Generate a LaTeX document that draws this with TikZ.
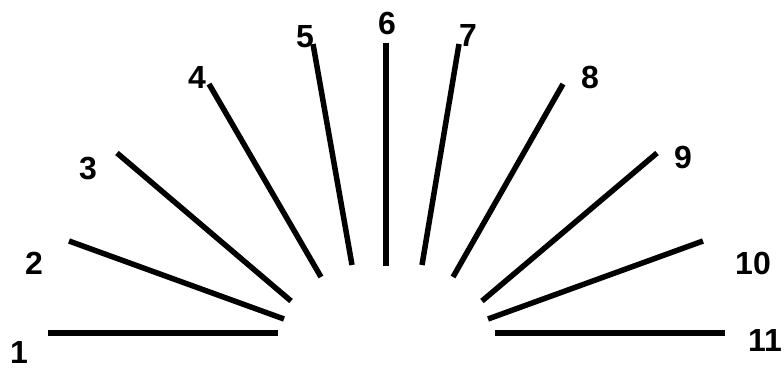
\documentclass[tikz,border=0pt]{standalone}
\usepackage{fontspec}
\setmainfont{Liberation Sans}
\usepackage{tikz}

\begin{document}
\begin{tikzpicture}[
  x=1pt, y=-1pt,
  ray/.style = {draw=black, line width=5.5pt},
  num/.style = {inner sep=0pt, font=\fontsize{32}{38}\selectfont\bfseries},
]
\useasboundingbox (0,0) rectangle (784,369);
% outer and inner ends of the rays
\coordinate (o1)  at (48,333);  \coordinate (i1)  at (278,333);
\coordinate (o2)  at (69,241);  \coordinate (i2)  at (284,319);
\coordinate (o3)  at (117,153); \coordinate (i3)  at (291,301);
\coordinate (o4)  at (209,84);  \coordinate (i4)  at (321,277);
\coordinate (o5)  at (313,44);  \coordinate (i5)  at (352,265);
\coordinate (o6)  at (386,43);  \coordinate (i6)  at (386,266);
\coordinate (o7)  at (459,44);  \coordinate (i7)  at (422,265);
\coordinate (o8)  at (563,84);  \coordinate (i8)  at (453,277);
\coordinate (o9)  at (657,153); \coordinate (i9)  at (482,301);
\coordinate (o10) at (703,241); \coordinate (i10) at (488,319);
\coordinate (o11) at (725,333); \coordinate (i11) at (495,333);
\draw[ray] (o1) -- (i1);
\draw[ray] (o2) -- (i2);
\draw[ray] (o3) -- (i3);
\draw[ray] (o4) -- (i4);
\draw[ray] (o5) -- (i5);
\draw[ray] (o6) -- (i6);
\draw[ray] (o7) -- (i7);
\draw[ray] (o8) -- (i8);
\draw[ray] (o9) -- (i9);
\draw[ray] (o10) -- (i10);
\draw[ray] (o11) -- (i11);
% numbers
\node[num] (n1)  at (19,352)  {1};
\node[num] (n2)  at (34,263)  {2};
\node[num] (n3)  at (88,169)  {3};
\node[num] (n4)  at (197,77)  {4};
\node[num] (n5)  at (305,37)  {5};
\node[num] (n6)  at (387,23)  {6};
\node[num] (n7)  at (468,35)  {7};
\node[num] (n8)  at (590,77)  {8};
\node[num] (n9)  at (683,157) {9};
\node[num] (n10) at (753,263) {10};
\node[num] (n11) at (765,340) {11};
\end{tikzpicture}
\end{document}
